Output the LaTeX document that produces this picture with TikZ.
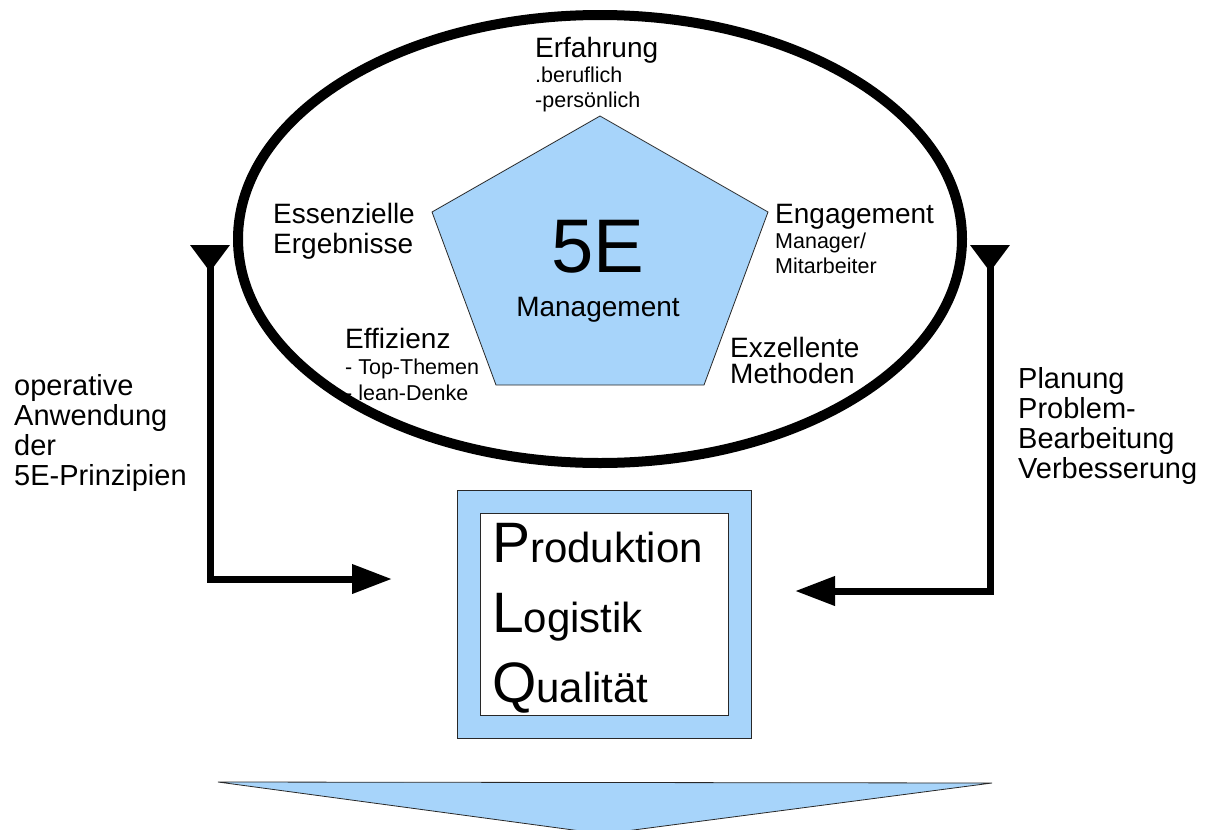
\documentclass[tikz,border=0pt]{standalone}
\usepackage{fontspec}
\setmainfont{Liberation Sans}
\usetikzlibrary{shapes.geometric,arrows.meta}
\definecolor{paleblue}{RGB}{167,212,250}
\definecolor{edgegray}{RGB}{40,40,40}
\newcommand\smf{\fontsize{21.5}{24}\selectfont}
\newcommand\capf{\fontsize{57}{60}\selectfont}
\newcommand\topline{\rule{0pt}{30pt}}
\begin{document}
\begin{tikzpicture}[x=1pt,y=-1pt,
  lbl/.style={anchor=north west, inner sep=0pt, align=left},
  conn/.style={line width=7pt,
    {Triangle[reversed,width=38pt,length=27pt]}-{Triangle[width=28pt,length=40pt]}},
  panel/.style={draw=edgegray, line width=0.8pt, inner sep=0pt}]
\useasboundingbox (0,0) rectangle (1205,830);

% central pentagon with its title
\draw[fill=paleblue, draw=edgegray, line width=0.8pt]
  (600,116) -- (432,212) -- (496,385) -- (704,385) -- (768,212) -- cycle;
\node[anchor=base, inner sep=0pt, font=\fontsize{76}{80}\selectfont] (five) at (598,272) {5E};
\node[anchor=base, inner sep=0pt, font=\fontsize{28}{30}\selectfont] (mgmt) at (598,316) {Management};

% the five E's around the pentagon
\node[lbl, font=\fontsize{28}{25}\selectfont] (erf) at (535,27)
  {\topline Erfahrung\\{\smf .beruflich}\\{\smf -persönlich}};
\node[lbl, font=\fontsize{28}{30}\selectfont] (ess) at (273,193)
  {\topline Essenzielle\\Ergebnisse};
\node[lbl, font=\fontsize{28}{25}\selectfont] (eng) at (775,193)
  {\topline Engagement\\{\smf Manager/}\\{\smf Mitarbeiter}};
\node[lbl, font=\fontsize{28}{26}\selectfont] (eff) at (345,318)
  {\topline Effizienz\\{\smf - Top-Themen}\\{\smf - lean-Denke}};
\node[lbl, font=\fontsize{28}{26}\selectfont] (exz) at (730,327)
  {\topline Exzellente\\Methoden};

% side labels
\node[lbl, font=\fontsize{29}{30}\selectfont] (left) at (14,365)
  {\topline operative\\Anwendung\\der\\5E-Prinzipien};
\node[lbl, font=\fontsize{29}{30}\selectfont] (right) at (1018,358)
  {\topline Planung\\Problem-\\Bearbeitung\\Verbesserung};

% surrounding ring
\node[draw, ellipse, line width=10pt, minimum width=724pt, minimum height=448pt,
  inner sep=0pt] (ring) at (600,239) {};

% PLQ block
\node[panel, fill=paleblue, minimum width=294pt, minimum height=248pt] (plqouter) at (604,614) {};
\node[panel, fill=white, minimum width=248pt, minimum height=202pt] (plqinner) at (604,614) {};
\node[lbl, font=\fontsize{42}{70}\selectfont] (plq) at (492,502)
  {\rule{0pt}{60pt}{\capf P}roduktion\\{\capf L}ogistik\\{\capf Q}ualität};

% feedback connectors
\coordinate (ltop) at (210,245);
\coordinate (lend) at (392,579);
\coordinate (rtop) at (990,245);
\coordinate (rend) at (795,591);
\draw[conn] (ltop) |- (lend);
\draw[conn] (rtop) |- (rend);

% downward arrow at the bottom
\draw[fill=paleblue, draw=edgegray, line width=0.8pt]
  (218,782) -- (992,783) -- (603,834) -- cycle;
\end{tikzpicture}
\end{document}
